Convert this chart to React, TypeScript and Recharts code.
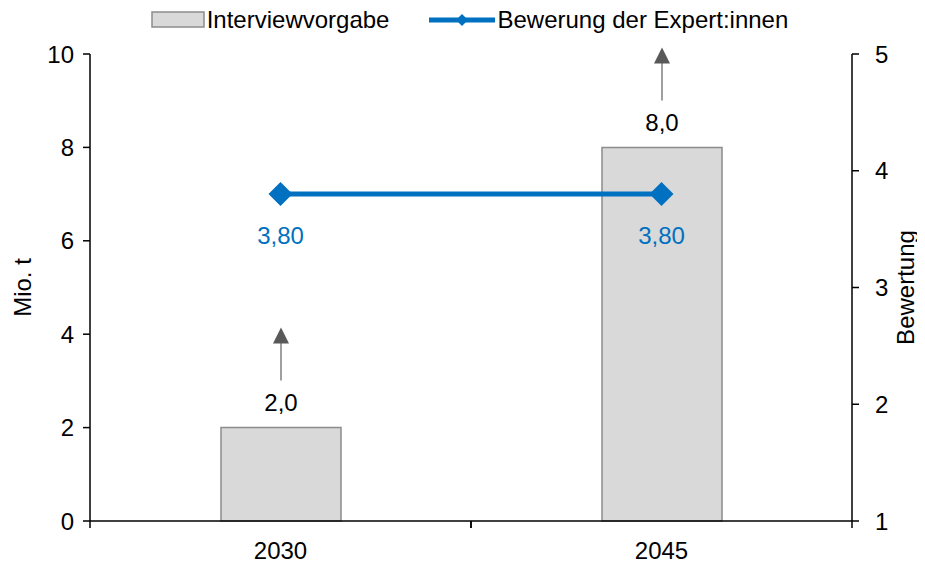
import { Bar, ComposedChart, LabelList, Legend, Line, XAxis, YAxis } from 'recharts';

const years = ['2030', '2045'];
const interviewValues = [2.0, 8.0];
const expertRatings = [3.8, 3.8];
const leftTicks = [0, 2, 4, 6, 8, 10];
const rightTicks = [1, 2, 3, 4, 5];

const data = years.map((year, i) => ({
  year,
  vorgabe: interviewValues[i],
  bewertung: expertRatings[i],
}));

const FONT = '"Liberation Sans", Arial, sans-serif';
const FS = 24;
const BLUE = '#0070C0';

function fmt(v: number, digits: number) {
  return v.toFixed(digits).replace('.', ',');
}

// category label plus tick marks at the band edges (Excel style)
function YearTick(props: any) {
  const { x, y, payload } = props;
  const half = payload && payload.offset ? payload.offset : 190.5;
  return (
    <g>
      <line x1={x - half} y1={y} x2={x - half} y2={y + 7} stroke='#000' strokeWidth={1.5} />
      <line x1={x + half} y1={y} x2={x + half} y2={y + 7} stroke='#000' strokeWidth={1.5} />
      <text x={x} y={y + 29} textAnchor='middle' dominantBaseline='central' fontSize={FS} fontFamily={FONT} fill='#000'>
        {payload.value}
      </text>
    </g>
  );
}

function BarLabel(props: any) {
  const { x, y, width, value } = props;
  const cx = x + width / 2;
  return (
    <g>
      <line x1={cx} y1={y - 47} x2={cx} y2={y - 86} stroke='#7f7f7f' strokeWidth={1.5} />
      <polygon points={`${cx},${y - 100} ${cx - 8},${y - 84} ${cx + 8},${y - 84}`} fill='#595959' />
      <text x={cx} y={y - 25} textAnchor='middle' dominantBaseline='central' fontSize={FS} fontFamily={FONT} fill='#000'>
        {fmt(value, 1)}
      </text>
    </g>
  );
}

function LineLabel(props: any) {
  const { x, y, value } = props;
  return (
    <text x={x} y={y + 41} textAnchor='middle' dominantBaseline='central' fontSize={FS} fontFamily={FONT} fill={BLUE}>
      {fmt(value, 2)}
    </text>
  );
}

function Diamond(props: any) {
  const { cx, cy } = props;
  if (cx == null || cy == null) return null;
  const r = 12;
  return <polygon points={`${cx},${cy - r} ${cx + r},${cy} ${cx},${cy + r} ${cx - r},${cy}`} fill={BLUE} />;
}

function LegendBox() {
  const text = { fontSize: FS, fontFamily: FONT, color: '#000', lineHeight: '24px' };
  return (
    <div style={{ display: 'flex', justifyContent: 'center', alignItems: 'center', height: 24, paddingLeft: 14 }}>
      <svg width={56} height={18}>
        <rect x={1} y={1} width={52} height={15} fill='#d9d9d9' stroke='#8c8c8c' strokeWidth={1.5} />
      </svg>
      <span style={text}>Interviewvorgabe</span>
      <svg width={70} height={18} style={{ marginLeft: 38 }}>
        <line x1={2} y1={9} x2={68} y2={9} stroke={BLUE} strokeWidth={5} />
        <polygon points='35,3 41,9 35,15 29,9' fill={BLUE} />
      </svg>
      <span style={text}>Bewerung der Expert:innen</span>
    </div>
  );
}

function LeftTitle(props: any) {
  const { viewBox } = props;
  const x = viewBox.x + 14;
  const y = viewBox.y + viewBox.height / 2;
  return (
    <text x={x} y={y} transform={`rotate(-90, ${x}, ${y})`} textAnchor='middle' dominantBaseline='central' fontSize={FS} fontFamily={FONT} fill='#000'>
      Mio. t
    </text>
  );
}

function RightTitle(props: any) {
  const { viewBox } = props;
  // baseline sits just inside the right edge, glyphs rise towards the axis
  const x = viewBox.x + viewBox.width + 2;
  const y = viewBox.y + viewBox.height / 2;
  return (
    <text x={x} y={y} transform={`rotate(-90, ${x}, ${y})`} textAnchor='middle' fontSize={FS} fontFamily={FONT} fill='#000'>
      Bewertung
    </text>
  );
}

export default function App() {
  const tick = { fontSize: FS, fontFamily: FONT, fill: '#000' };
  return (
    <div style={{ width: 917, height: 554, background: '#fff' }}>
      <ComposedChart width={917} height={554} data={data} margin={{ top: 22, right: 13, bottom: 11, left: 0 }}>
        <Legend verticalAlign='top' content={() => <LegendBox />} wrapperStyle={{ top: 0, left: 0, width: 909, height: 24 }} />
        <XAxis
          dataKey='year'
          tick={YearTick}
          tickLine={false}
          tickSize={0}
          tickMargin={0}
          axisLine={{ stroke: '#000', strokeWidth: 1.5 }}
          height={30}
        />
        <YAxis
          yAxisId='left'
          domain={[0, 10]}
          ticks={leftTicks}
          tick={tick}
          tickSize={7}
          tickMargin={9}
          tickLine={{ stroke: '#000', strokeWidth: 1.5 }}
          axisLine={{ stroke: '#000', strokeWidth: 1.5 }}
          width={82}
          label={LeftTitle}
        />
        <YAxis
          yAxisId='right'
          orientation='right'
          domain={[1, 5]}
          ticks={rightTicks}
          tick={tick}
          tickSize={7}
          tickMargin={16}
          tickLine={{ stroke: '#000', strokeWidth: 1.5 }}
          axisLine={{ stroke: '#000', strokeWidth: 1.5 }}
          width={60}
          label={RightTitle}
        />
        <Bar yAxisId='left' dataKey='vorgabe' barSize={120} fill='#d9d9d9' stroke='#8c8c8c' strokeWidth={1.5} isAnimationActive={false}>
          <LabelList dataKey='vorgabe' content={BarLabel} />
        </Bar>
        <Line
          yAxisId='right'
          dataKey='bewertung'
          stroke={BLUE}
          strokeWidth={5}
          dot={Diamond}
          activeDot={false}
          isAnimationActive={false}
        >
          <LabelList dataKey='bewertung' content={LineLabel} />
        </Line>
      </ComposedChart>
    </div>
  );
}
